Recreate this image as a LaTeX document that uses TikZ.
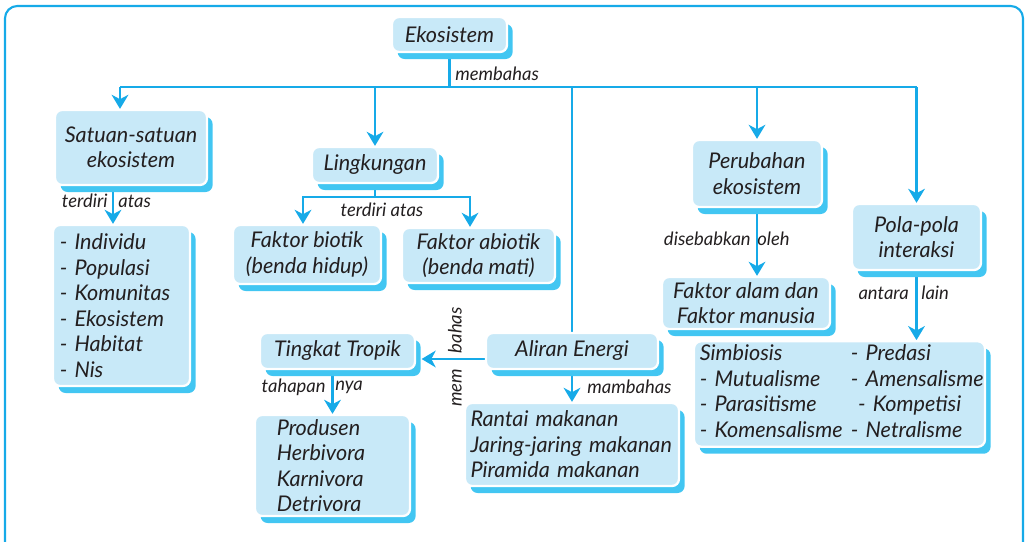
\documentclass[tikz,border=0pt]{standalone}
\usepackage{fontspec}
\setmainfont{Lato}
\usetikzlibrary{arrows.meta,shadows,backgrounds}
\definecolor{lineblue}{RGB}{22,170,232}
\definecolor{boxfill}{RGB}{200,233,248}
\definecolor{shblue}{RGB}{66,198,242}
\definecolor{txt}{RGB}{35,31,32}
\begin{document}
\begin{tikzpicture}[x=0.02cm,y=-0.02cm,
  box/.style={rounded corners=4pt, fill=boxfill, draw=white, line width=1.3pt, text=txt,
    inner sep=1pt, align=center, font=\itshape\fontsize{12.3}{14.5}\selectfont,
    drop shadow={shadow xshift=3.2pt, shadow yshift=-4pt, fill=shblue, opacity=1}},
  lbl/.style={inner sep=0pt, text=txt, font=\itshape\fontsize{10.5}{12}\selectfont},
  ln/.style={lineblue, line width=1.5pt},
  arr/.style={ln, -{Stealth[length=8pt,width=9.5pt,inset=2.5pt]}}]
\clip (0,0) rectangle (1027,541);
% frame
\draw[lineblue, line width=1.2pt, rounded corners=7pt] (5,6) rectangle (1023,580);
% boxes:
\node[box, minimum width=2.30cm, minimum height=0.70cm] (eko) at (449.5,34.5) {Ekosistem};
\node[box, minimum width=3.04cm, minimum height=1.50cm] (satuan) at (131,147.5) {Satuan-satuan\\ekosistem};
\node[box, minimum width=2.74cm, minimum height=3.22cm, text width=2.47cm, align=left] (unit) at (121.5,305.5)
  {- Individu\\- Populasi\\- Komunitas\\- Ekosistem\\- Habitat\\- Nis};
\node[box, minimum width=2.52cm, minimum height=0.72cm] (lingk) at (375,165) {Lingkungan};
\node[box, minimum width=2.96cm, minimum height=1.18cm] (biotik) at (307,254.5) {Faktor biotik\\(benda hidup)};
\node[box, minimum width=3.06cm, minimum height=1.10cm] (abiotik) at (478.5,255.5) {Faktor abiotik\\(benda mati)};
\node[box, minimum width=3.10cm, minimum height=0.72cm] (tropik) at (337.5,351) {Tingkat Tropik};
\node[box, minimum width=3.44cm, minimum height=0.72cm] (aliran) at (572,351) {Aliran Energi};
\node[box, minimum width=3.10cm, minimum height=2.02cm, text width=2.23cm, align=left] (tahap) at (332.5,465.5)
  {Produsen\\Herbivora\\Karnivora\\Detrivora};
\node[box, minimum width=4.28cm, minimum height=1.66cm, text width=4.06cm, align=left] (makanan) at (572,444.5)
  {Rantai makanan\\Jaring-jaring makanan\\Piramida makanan};
\node[box, minimum width=2.60cm, minimum height=1.34cm] (perubahan) at (757,173.5) {Perubahan\\ekosistem};
\node[box, minimum width=3.36cm, minimum height=1.04cm] (sebab) at (746,303) {Faktor alam dan\\Faktor manusia};
\node[box, minimum width=2.58cm, minimum height=1.32cm] (pola) at (916.5,237) {Pola-pola\\interaksi};
\node[box, minimum width=5.82cm, minimum height=2.08cm, text width=5.59cm, align=left] (interaksi) at (839.5,394)
  {\begin{tabular}{@{}p{86pt}@{}l@{}}
   Simbiosis & - Predasi\\
   - Mutualisme & - Amensalisme\\
   - Parasitisme & \,\,- Kompetisi\\
   - Komensalisme & - Netralisme
   \end{tabular}};
% labels
\node[lbl, anchor=west] (lmembahas) at (455,74) {membahas};
\node[lbl, anchor=east] (lterdiri) at (108,201) {terdiri};
\node[lbl, anchor=west] (latas) at (118,201) {atas};
\node[lbl] (lterdiri2) at (382,210) {terdiri atas};
\node[lbl, anchor=east] (ltahapan) at (326,387) {tahapan};
\node[lbl, anchor=west] (lnya) at (335,387) {nya};
\node[lbl, anchor=west] (lmambahas) at (587,387) {mambahas};
\node[lbl, anchor=east] (ldisebab) at (751,239) {disebabkan};
\node[lbl, anchor=west] (loleh) at (757,239) {oleh};
\node[lbl, anchor=east] (lantara) at (909,293) {antara};
\node[lbl, anchor=west] (llain) at (921,293) {lain};
\node[lbl, rotate=90] (lmem) at (455,357) {mem\hspace{9pt}bahas};
% connectors
\begin{scope}[on background layer]
\coordinate (bus) at (120,87);
\draw[ln] (eko.south) -- (eko.south |- bus);
\draw[ln] (bus) -- (pola.north |- bus);
\draw[arr] (bus) -- (bus |- satuan.north);
\draw[arr] (lingk.north |- bus) -- (lingk.north);
\draw[ln] (aliran.north |- bus) -- (aliran.north);
\draw[arr] (perubahan.north |- bus) -- (perubahan.north);
\draw[arr] (pola.north |- bus) -- (pola.north);
% under satuan
\coordinate (s1) at (113,185);
\draw[arr] (s1) -- (s1 |- unit.north);
% lingkungan split
\coordinate (split) at (375,197);
\draw[ln] (lingk.south) -- (split);
\draw[arr] (split) -| ([xshift=-0.08cm]biotik.north);
\draw[arr] (split) -| ([xshift=-0.17cm]abiotik.north);
% aliran energi
\draw[arr] ([yshift=-0.16cm]aliran.west) -- ([yshift=-0.16cm,xshift=0.11cm]tropik.east);
\draw[arr] (tropik.south -| tahap.north) -- (tahap.north);
\draw[arr] (aliran.south) -- (makanan.north);
% right side
\draw[arr] (perubahan.south) -- (perubahan.south |- sebab.north);
\draw[arr] (pola.south) -- (pola.south |- interaksi.north);
\end{scope}
\end{tikzpicture}
\end{document}
